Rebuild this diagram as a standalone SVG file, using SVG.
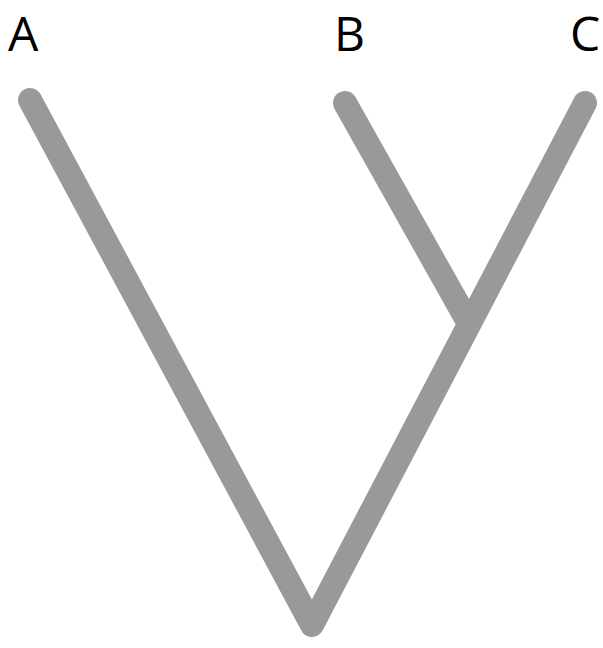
<svg xmlns="http://www.w3.org/2000/svg" width="603" height="648" viewBox="0 0 603 648">
<style>
.br{stroke:#999999;stroke-width:24;stroke-linecap:round;stroke-linejoin:round;fill:none}
.lb{font-family:"Open Sans","Liberation Sans",sans-serif;font-size:48px;fill:#000}
</style>
<rect width="603" height="648" fill="#fff"/>
<g id="connectors">
<polyline class="br" points="30,100 312,625 585,103"/>
<line class="br" x1="345" y1="103" x2="467" y2="320"/>
</g>
<g id="A"><text class="lb" x="8" y="51">A</text></g>
<g id="B"><text class="lb" x="334" y="51">B</text></g>
<g id="C"><text class="lb" x="570" y="51">C</text></g>
</svg>
